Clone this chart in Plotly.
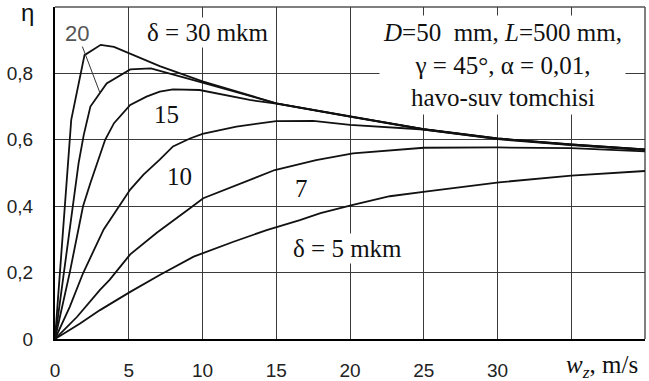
import plotly.graph_objects as go

# ---- data ----
wz_30 = [0, 1.1, 2.0, 3.1, 4.0, 5.0, 7.1, 10, 15, 20, 25, 30, 35, 40]
eta_30 = [0, 0.66, 0.855, 0.886, 0.88, 0.862, 0.822, 0.776, 0.71, 0.67, 0.632, 0.604, 0.586, 0.571]

wz_20 = [0, 1.0, 1.6, 1.95, 2.4, 3.5, 5.1, 6.5, 8.0, 10, 15, 20, 25, 30, 35, 40]
eta_20 = [0, 0.34, 0.53, 0.615, 0.70, 0.77, 0.812, 0.815, 0.797, 0.772, 0.71, 0.67, 0.632, 0.604, 0.586, 0.571]

wz_15 = [0, 1.0, 1.9, 2.4, 3.4, 4.0, 5.1, 6.2, 7.1, 8.0, 9.8, 11.2, 13.2, 15, 20, 25, 30, 35, 40]
eta_15 = [0, 0.2, 0.40, 0.47, 0.60, 0.65, 0.705, 0.73, 0.745, 0.752, 0.75, 0.737, 0.72, 0.709, 0.669, 0.631, 0.603, 0.585, 0.570]

wz_10 = [0, 1.0, 1.9, 3.3, 4.2, 5.1, 6.0, 7.1, 8.0, 9.15, 10, 11.2, 12.3, 15, 17.5, 20, 25, 30, 35, 40]
eta_10 = [0, 0.097, 0.198, 0.33, 0.39, 0.45, 0.495, 0.54, 0.58, 0.604, 0.618, 0.63, 0.64, 0.656, 0.657, 0.645, 0.631, 0.602, 0.584, 0.569]

wz_7 = [0, 1.5, 3.05, 3.7, 5.1, 6.9, 9.15, 10.05, 14.9, 17.7, 20.2, 25, 30, 35, 40]
eta_7 = [0, 0.067, 0.148, 0.178, 0.255, 0.32, 0.394, 0.424, 0.509, 0.539, 0.559, 0.576, 0.577, 0.575, 0.565]

wz_5 = [0, 1.7, 3.05, 5.1, 7.1, 9.4, 12.1, 14.35, 16.6, 18, 20.2, 22.7, 25.1, 30.1, 35, 40]
eta_5 = [0, 0.047, 0.087, 0.142, 0.193, 0.248, 0.293, 0.328, 0.358, 0.379, 0.404, 0.43, 0.444, 0.472, 0.492, 0.506]

x_ticks = [0, 5, 10, 15, 20, 25, 30, 35]
x_tick_text = ["0", "5", "10", "15", "20", "25", "30", " "]
y_ticks = [0, 0.2, 0.4, 0.6, 0.8]
y_tick_text = ["0", "0,2", "0,4", "0,6", "0,8"]

SERIF = "Liberation Serif"
SANS = "Liberation Sans"

fig = go.Figure()
for xs, ys in [(wz_30, eta_30), (wz_20, eta_20), (wz_15, eta_15),
               (wz_10, eta_10), (wz_7, eta_7), (wz_5, eta_5)]:
    fig.add_trace(go.Scatter(x=xs, y=ys, mode="lines",
                             line=dict(color="#111111", width=1.8),
                             showlegend=False, hoverinfo="skip"))

fig.update_layout(
    width=649, height=381,
    margin=dict(l=55, r=4, t=7, b=42),
    paper_bgcolor="white", plot_bgcolor="white",
    showlegend=False,
)
fig.update_xaxes(range=[0, 40], tickvals=x_ticks, ticktext=x_tick_text,
                 showgrid=True, gridcolor="#3a3a3a", gridwidth=1,
                 zeroline=False, showline=True, linecolor="black", linewidth=2,
                 ticks="", ticklabelstandoff=13, automargin=False,
                 tickfont=dict(family=SANS, size=19, color="#222"))
fig.update_yaxes(range=[0, 1.0], tickvals=y_ticks, ticktext=y_tick_text,
                 showgrid=True, gridcolor="#3a3a3a", gridwidth=1,
                 zeroline=False, showline=True, linecolor="black", linewidth=2,
                 ticks="", ticklabelstandoff=16, automargin=False,
                 tickfont=dict(family=SANS, size=19, color="#222"))

# top and right frame
fig.add_shape(type="line", xref="x domain", yref="y domain", x0=0, x1=1, y0=1, y1=1,
              line=dict(color="#555", width=1.5), layer="below")
fig.add_shape(type="line", xref="x domain", yref="y domain", x0=1, x1=1, y0=0, y1=1,
              line=dict(color="#555", width=1.5), layer="below")

def label(text, x, y, size=25, family=SERIF, bg="white", color="#111"):
    kw = dict(bgcolor=bg) if bg else {}
    fig.add_annotation(x=x, y=y, xref="x", yref="y", text=text, showarrow=False,
                       font=dict(family=family, size=size, color=color),
                       borderpad=1, xanchor="center", yanchor="middle", **kw)

label("δ = 30 mkm", 10.34, 0.922)
label("15", 7.53, 0.675, bg=None)
label("10", 8.47, 0.488, bg=None)
label("7", 16.72, 0.454, bg=None)
label("δ = 5 mkm", 19.86, 0.274)

fig.add_annotation(x=30.37, y=0.825, xref="x", yref="y",
                   text="<i>D</i>=50  mm, <i>L</i>=500 mm,<br>γ = 45°, α = 0,01,<br>havo-suv tomchisi",
                   showarrow=False, align="center",
                   font=dict(family=SERIF, size=25, color="#111"),
                   bgcolor="white", borderpad=3, xanchor="center", yanchor="middle")

# "20" label with leader line
fig.add_annotation(x=3.05, y=0.741, xref="x", yref="y",
                   ax=1.52, ay=0.92, axref="x", ayref="y",
                   text="20", showarrow=True, arrowhead=0, arrowwidth=1,
                   arrowcolor="#333",
                   font=dict(family=SANS, size=22, color="#555"),
                   bgcolor="white", borderpad=0)

# axis titles
fig.add_annotation(x=-0.046, y=0.982, xref="paper", yref="paper", text="η",
                   showarrow=False, font=dict(family=SANS, size=24, color="#111"),
                   xanchor="center", yanchor="middle")
fig.add_annotation(x=0.927, y=-0.082, xref="paper", yref="paper",
                   text="<i>w<sub>z</sub></i>, m/s",
                   showarrow=False, font=dict(family=SERIF, size=25, color="#111"),
                   xanchor="center", yanchor="middle")

fig.write_html("out.html", config={"displayModeBar": False},
               post_script="document.body.style.margin='0';")
